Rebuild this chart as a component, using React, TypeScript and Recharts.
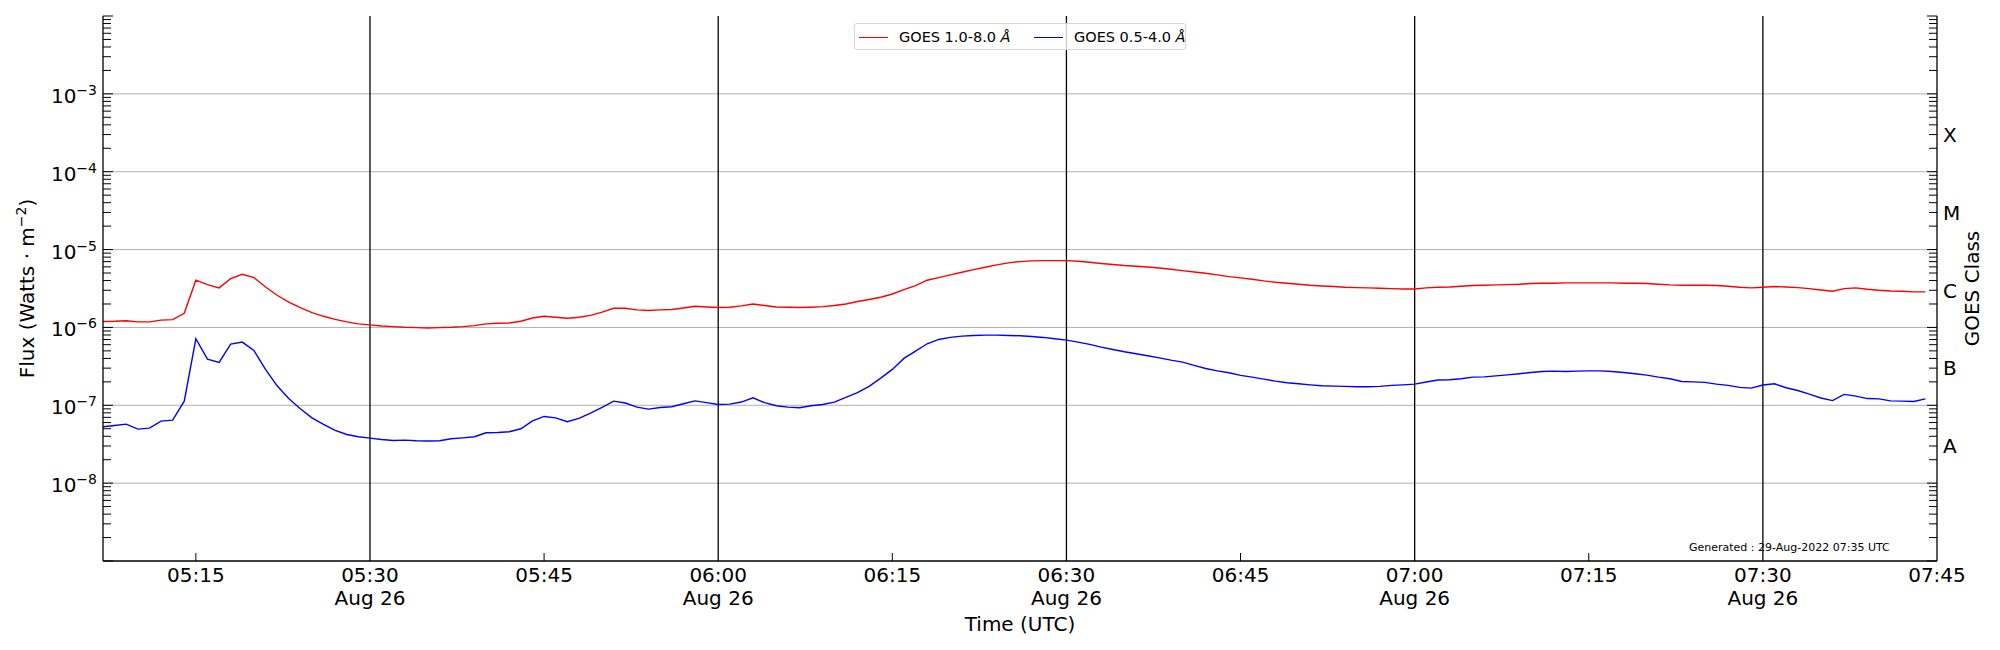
import React from 'react';
import { LineChart, Line, XAxis, YAxis, ReferenceLine, Legend } from 'recharts';

// GOES XRS 1-minute samples, starting 05:07 UTC on 26 Aug 2022
const START_MINUTE = 307;
const goesLong = [
  1.19e-6, 1.20e-6, 1.22e-6, 1.18e-6, 1.18e-6, 1.24e-6, 1.26e-6, 1.52e-6, 4.04e-6, 3.55e-6,
  3.22e-6, 4.24e-6, 4.82e-6, 4.37e-6, 3.31e-6, 2.59e-6, 2.11e-6, 1.80e-6, 1.55e-6, 1.39e-6,
  1.27e-6, 1.18e-6, 1.11e-6, 1.08e-6, 1.045e-6, 1.025e-6, 1.005e-6, 0.995e-6, 0.985e-6, 0.995e-6,
  1.005e-6, 1.025e-6, 1.056e-6, 1.11e-6, 1.13e-6, 1.14e-6, 1.20e-6, 1.32e-6, 1.39e-6, 1.35e-6,
  1.31e-6, 1.35e-6, 1.43e-6, 1.57e-6, 1.76e-6, 1.76e-6, 1.68e-6, 1.65e-6, 1.68e-6, 1.70e-6,
  1.78e-6, 1.87e-6, 1.83e-6, 1.80e-6, 1.82e-6, 1.89e-6, 2.00e-6, 1.91e-6, 1.83e-6, 1.82e-6,
  1.80e-6, 1.82e-6, 1.85e-6, 1.91e-6, 2.00e-6, 2.15e-6, 2.28e-6, 2.44e-6, 2.69e-6, 3.06e-6,
  3.45e-6, 4.04e-6, 4.37e-6, 4.73e-6, 5.12e-6, 5.53e-6, 5.93e-6, 6.36e-6, 6.74e-6, 7.01e-6,
  7.15e-6, 7.22e-6, 7.22e-6, 7.22e-6, 7.08e-6, 6.88e-6, 6.61e-6, 6.42e-6, 6.23e-6, 6.11e-6,
  5.98e-6, 5.81e-6, 5.59e-6, 5.37e-6, 5.16e-6, 4.96e-6, 4.73e-6, 4.50e-6, 4.33e-6, 4.16e-6,
  3.96e-6, 3.80e-6, 3.69e-6, 3.59e-6, 3.48e-6, 3.41e-6, 3.35e-6, 3.28e-6, 3.25e-6, 3.22e-6,
  3.19e-6, 3.15e-6, 3.12e-6, 3.12e-6, 3.22e-6, 3.28e-6, 3.31e-6, 3.38e-6, 3.45e-6, 3.48e-6,
  3.52e-6, 3.55e-6, 3.59e-6, 3.66e-6, 3.69e-6, 3.69e-6, 3.73e-6, 3.73e-6, 3.73e-6, 3.73e-6,
  3.73e-6, 3.69e-6, 3.69e-6, 3.66e-6, 3.59e-6, 3.52e-6, 3.48e-6, 3.48e-6, 3.48e-6, 3.45e-6,
  3.38e-6, 3.28e-6, 3.22e-6, 3.28e-6, 3.35e-6, 3.31e-6, 3.25e-6, 3.15e-6, 3.03e-6, 2.92e-6,
  3.15e-6, 3.22e-6, 3.09e-6, 3.00e-6, 2.94e-6, 2.92e-6, 2.86e-6, 2.86e-6,
];
const goesShort = [
  5.30e-8, 5.51e-8, 5.73e-8, 4.94e-8, 5.09e-8, 6.26e-8, 6.45e-8, 1.13e-7, 7.15e-7, 3.92e-7,
  3.55e-7, 6.11e-7, 6.48e-7, 5.06e-7, 2.89e-7, 1.78e-7, 1.22e-7, 9.02e-8, 6.90e-8, 5.67e-8,
  4.75e-8, 4.22e-8, 3.94e-8, 3.79e-8, 3.64e-8, 3.53e-8, 3.57e-8, 3.50e-8, 3.47e-8, 3.50e-8,
  3.71e-8, 3.82e-8, 3.94e-8, 4.43e-8, 4.48e-8, 4.57e-8, 4.99e-8, 6.32e-8, 7.19e-8, 6.90e-8,
  6.14e-8, 6.78e-8, 7.94e-8, 9.38e-8, 1.13e-7, 1.07e-7, 9.47e-8, 8.93e-8, 9.38e-8, 9.57e-8,
  1.045e-7, 1.14e-7, 1.08e-7, 1.025e-7, 1.035e-7, 1.10e-7, 1.25e-7, 1.08e-7, 9.86e-8, 9.47e-8,
  9.29e-8, 9.86e-8, 1.025e-7, 1.10e-7, 1.26e-7, 1.45e-7, 1.75e-7, 2.23e-7, 2.89e-7, 4.00e-7,
  4.96e-7, 6.17e-7, 7.01e-7, 7.44e-7, 7.74e-7, 7.89e-7, 7.97e-7, 7.97e-7, 7.89e-7, 7.81e-7,
  7.66e-7, 7.44e-7, 7.15e-7, 6.88e-7, 6.48e-7, 6.05e-7, 5.59e-7, 5.21e-7, 4.87e-7, 4.59e-7,
  4.33e-7, 4.07e-7, 3.80e-7, 3.59e-7, 3.25e-7, 2.97e-7, 2.77e-7, 2.62e-7, 2.42e-7, 2.30e-7,
  2.17e-7, 2.04e-7, 1.95e-7, 1.89e-7, 1.83e-7, 1.78e-7, 1.76e-7, 1.75e-7, 1.73e-7, 1.73e-7,
  1.75e-7, 1.80e-7, 1.83e-7, 1.87e-7, 1.99e-7, 2.11e-7, 2.13e-7, 2.19e-7, 2.30e-7, 2.32e-7,
  2.39e-7, 2.46e-7, 2.54e-7, 2.64e-7, 2.72e-7, 2.75e-7, 2.72e-7, 2.75e-7, 2.77e-7, 2.77e-7,
  2.72e-7, 2.64e-7, 2.54e-7, 2.44e-7, 2.30e-7, 2.19e-7, 2.02e-7, 2.00e-7, 1.97e-7, 1.87e-7,
  1.80e-7, 1.70e-7, 1.66e-7, 1.82e-7, 1.89e-7, 1.68e-7, 1.55e-7, 1.39e-7, 1.24e-7, 1.15e-7,
  1.38e-7, 1.31e-7, 1.22e-7, 1.21e-7, 1.14e-7, 1.13e-7, 1.12e-7, 1.21e-7,
];

const timeDomain = [307, 465];
const timeTicks = [315, 330, 345, 360, 375, 390, 405, 420, 435, 450, 465];
const dayLineTimes = [330, 360, 390, 420, 450];
const dateLabel = 'Aug 26';
const fluxDomain = [1e-9, 1e-2];
const decadeExponents = [-9, -8, -7, -6, -5, -4, -3];
const labelledExponents = [-8, -7, -6, -5, -4, -3];
const gridValues = [1e-8, 1e-7, 1e-6, 1e-5, 1e-4, 1e-3];
const classLetters = ['A', 'B', 'C', 'M', 'X'];
const classValues = [3e-8, 3e-7, 3e-6, 3e-5, 3e-4];
const legendItems = [
  { name: 'GOES 1.0-8.0 ', color: '#ff0000' },
  { name: 'GOES 0.5-4.0 ', color: '#0000ff' },
];

const logTicks: number[] = [];
decadeExponents.forEach((d) => {
  for (let m = 1; m <= 9; m++) logTicks.push(Number((m * Math.pow(10, d)).toPrecision(3)));
});
logTicks.push(1e-2);

const data = goesLong.map((v, i) => ({ t: START_MINUTE + i, long: v, short: goesShort[i] }));

const FONT = '"DejaVu Sans", sans-serif';

const fmtTime = (m: number) => {
  const h = Math.floor(m / 60);
  const mm = m % 60;
  return `${String(h).padStart(2, '0')}:${String(mm).padStart(2, '0')}`;
};

const isDecade = (v: number) => {
  const lg = Math.log10(v);
  return Math.abs(lg - Math.round(lg)) < 1e-6;
};

const LeftTick = (props: any) => {
  const { x, y, payload } = props;
  const v = payload.value;
  const dec = isDecade(v);
  const exp = Math.round(Math.log10(v));
  const labelled = dec && labelledExponents.includes(exp);
  return (
    <g>
      <line x1={x} x2={x + (dec ? 10 : 8)} y1={y} y2={y} stroke="#000" strokeWidth={1} />
      {labelled && (
        <text x={x - 6} y={y + 9} textAnchor="end" fontSize={20} fontFamily={FONT} fill="#000">
          <tspan>10</tspan>
          <tspan dy={-8} fontSize={14}>{'\u2212' + Math.abs(exp)}</tspan>
        </text>
      )}
    </g>
  );
};

const RightTick = (props: any) => {
  const { x, y, payload } = props;
  const v = payload.value;
  const dec = isDecade(v);
  const idx = classValues.findIndex((c) => Math.abs(v / c - 1) < 1e-6);
  return (
    <g>
      <line x1={x} x2={x - (dec ? 10 : 8)} y1={y} y2={y} stroke="#000" strokeWidth={1} />
      {idx >= 0 && (
        <text x={x + 6} y={y + 7.3} textAnchor="start" fontSize={20} fontFamily={FONT} fill="#000">
          {classLetters[idx]}
        </text>
      )}
    </g>
  );
};

const TimeTick = (props: any) => {
  const { x, y, payload } = props;
  const m = payload.value;
  const isDay = m % 30 === 0;
  const edge = m === timeDomain[1];
  return (
    <g>
      {!isDay && !edge && <line x1={x} x2={x} y1={y} y2={y - 8} stroke="#000" strokeWidth={1} />}
      <text x={x} y={y + 20.7} textAnchor="middle" fontSize={20} fontFamily={FONT} fill="#000">
        {fmtTime(m)}
      </text>
      {isDay && (
        <text x={x} y={y + 44} textAnchor="middle" fontSize={20} fontFamily={FONT} fill="#000">
          {dateLabel}
        </text>
      )}
    </g>
  );
};

const LegendBox = () => (
  <div
    style={{
      position: 'relative',
      width: 332,
      height: 27,
      boxSizing: 'border-box',
      border: '1px solid #d6d6d6',
      borderRadius: 3,
      background: 'rgba(255,255,255,0.8)',
      fontFamily: FONT,
      fontSize: 14.5,
      color: '#000',
    }}
  >
    {legendItems.map((it, i) => (
      <React.Fragment key={it.name}>
        <div
          style={{
            position: 'absolute',
            left: i === 0 ? 4 : 179,
            top: 12.5,
            width: 29,
            height: 1.4,
            background: it.color,
          }}
        />
        <div
          style={{
            position: 'absolute',
            left: i === 0 ? 44 : 219,
            top: 0,
            lineHeight: '26px',
            whiteSpace: 'nowrap',
          }}
        >
          {it.name}
          <i>Å</i>
        </div>
      </React.Fragment>
    ))}
  </div>
);

export default function App() {
  return (
    <div style={{ position: 'absolute', left: 0, top: 0, width: 2000, height: 650, background: '#fff' }}>
      <LineChart width={2000} height={650} data={data} margin={{ top: 16, right: 0, bottom: 0, left: 0 }}>
        <XAxis
          dataKey="t"
          type="number"
          domain={timeDomain}
          ticks={timeTicks}
          interval={0}
          allowDataOverflow
          height={89}
          tickSize={0}
          tickMargin={0}
          tickLine={false}
          axisLine={{ stroke: '#000', strokeWidth: 1.3 }}
          tick={<TimeTick />}
        />
        <XAxis
          xAxisId="top"
          orientation="top"
          dataKey="t"
          type="number"
          domain={timeDomain}
          allowDataOverflow
          height={0}
          tick={false}
          tickLine={false}
          axisLine={{ stroke: '#000', strokeWidth: 1.3 }}
        />
        <YAxis
          yAxisId="left"
          orientation="left"
          scale="log"
          domain={fluxDomain}
          allowDataOverflow
          ticks={logTicks}
          interval={0}
          width={103}
          tickSize={0}
          tickMargin={0}
          tickLine={false}
          axisLine={{ stroke: '#000', strokeWidth: 1.3 }}
          tick={<LeftTick />}
        />
        <YAxis
          yAxisId="right"
          orientation="right"
          scale="log"
          domain={fluxDomain}
          allowDataOverflow
          ticks={logTicks}
          interval={0}
          width={63}
          tickSize={0}
          tickMargin={0}
          tickLine={false}
          axisLine={{ stroke: '#000', strokeWidth: 1.3 }}
          tick={<RightTick />}
        />
        {gridValues.map((g) => (
          <ReferenceLine key={'h' + g} yAxisId="left" y={g} stroke="#b0b0b0" strokeWidth={1} />
        ))}
        {dayLineTimes.map((m) => (
          <ReferenceLine key={'v' + m} yAxisId="left" x={m} stroke="#000" strokeWidth={1.3} />
        ))}
        <Line
          yAxisId="left"
          type="linear"
          dataKey="long"
          name="GOES 1.0-8.0 Å"
          stroke="#ff0000"
          strokeWidth={1.4}
          dot={false}
          activeDot={false}
          isAnimationActive={false}
        />
        <Line
          yAxisId="left"
          type="linear"
          dataKey="short"
          name="GOES 0.5-4.0 Å"
          stroke="#0000ff"
          strokeWidth={1.4}
          dot={false}
          activeDot={false}
          isAnimationActive={false}
        />
        <Legend
          layout="horizontal"
          verticalAlign="middle"
          align="center"
          content={() => <LegendBox />}
          wrapperStyle={{ left: 854, top: 23, width: 332, height: 27, margin: 0, padding: 0 }}
        />
        <text x={1689} y={551} fontSize={11} fontFamily={FONT} fill="#000">
          Generated : 29-Aug-2022 07:35 UTC
        </text>
        <text x={1020} y={631} textAnchor="middle" fontSize={20} fontFamily={FONT} fill="#000">
          Time (UTC)
        </text>
        <text
          x={27}
          y={288.5 + 7}
          transform="rotate(-90, 27, 288.5)"
          textAnchor="middle"
          fontSize={20}
          fontFamily={FONT}
          fill="#000"
        >
          <tspan>Flux (Watts · m</tspan>
          <tspan dy={-8} fontSize={14}>{'\u22122'}</tspan>
          <tspan dy={8}>)</tspan>
        </text>
        <text
          x={1972}
          y={288.5 + 7}
          transform="rotate(-90, 1972, 288.5)"
          textAnchor="middle"
          fontSize={20}
          fontFamily={FONT}
          fill="#000"
        >
          GOES Class
        </text>
      </LineChart>
    </div>
  );
}
